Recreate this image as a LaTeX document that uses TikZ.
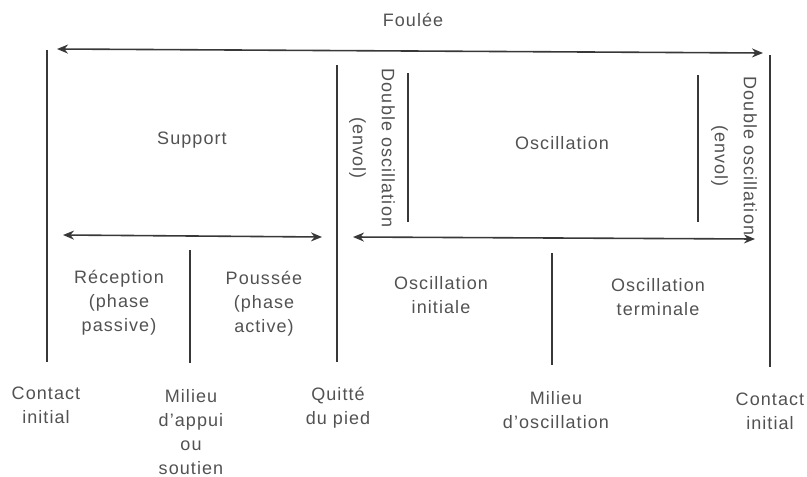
\documentclass[tikz,border=0pt]{standalone}
\usepackage{fontspec}
\setmainfont{Liberation Sans}[LetterSpace=6]
\usetikzlibrary{arrows.meta}
\definecolor{ink}{gray}{0.22}
\definecolor{txt}{gray}{0.32}
\begin{document}
\begin{tikzpicture}[x=1pt,y=-1pt,
  bar/.style={line width=1.6pt,draw=ink},
  dblarrow/.style={line width=1.6pt,draw=ink,{Stealth[length=11pt,width=9pt]}-{Stealth[length=11pt,width=9pt]}},
  lbl/.style={text=txt,font=\fontsize{18}{24}\selectfont,align=center,inner sep=0pt},
  rlbl/.style={lbl,rotate=-90}]
\useasboundingbox (0,0) rectangle (807,477);
% coordinates
\coordinate (c1t) at (47,50);   \coordinate (c1b) at (47,362);
\coordinate (qt)  at (337,65);  \coordinate (qb)  at (337,362);
\coordinate (d1t) at (408,73);  \coordinate (d1b) at (408,222);
\coordinate (d2t) at (698,75);  \coordinate (d2b) at (698,222);
\coordinate (c2t) at (770,55);  \coordinate (c2b) at (770,367);
\coordinate (m1t) at (190,250); \coordinate (m1b) at (190,363);
\coordinate (m2t) at (552,253); \coordinate (m2b) at (552,365);
\coordinate (fa) at (57,49);  \coordinate (fb) at (763,53);
\coordinate (sa) at (63,235); \coordinate (sb) at (322,237);
\coordinate (oa) at (353,237); \coordinate (ob) at (755,239);
% bars
\draw[bar] (c1t) -- (c1b);
\draw[bar] (qt) -- (qb);
\draw[bar] (d1t) -- (d1b);
\draw[bar] (d2t) -- (d2b);
\draw[bar] (c2t) -- (c2b);
\draw[bar] (m1t) -- (m1b);
\draw[bar] (m2t) -- (m2b);
% arrows
\draw[dblarrow] (fa) -- (fb);
\draw[dblarrow] (sa) -- (sb);
\draw[dblarrow] (oa) -- (ob);
% labels
\node[lbl] (foulee) at (413,20) {Foulée};
\node[lbl] (support) at (192,140) {Support};
\node[lbl] (oscil) at (562,143) {Oscillation};
\node[rlbl] (dbl1) at (372,148) {Double oscillation\\[5pt](envol)};
\node[rlbl] (dbl2) at (734,156) {Double oscillation\\[5pt](envol)};
\node[lbl] (recep) at (119,303) {Réception\\(phase\\passive)};
\node[lbl] (pous) at (264,304) {Poussée\\(phase\\active)};
\node[lbl] (oinit) at (441,295) {Oscillation\\initiale};
\node[lbl] (oterm) at (658,297) {Oscillation\\terminale};
\node[lbl] (ci1) at (46,405) {Contact\\initial};
\node[lbl] (mapp) at (191,432) {Milieu\\d'appui\\ou\\soutien};
\node[lbl] (quit) at (338,408) {Quitté\\du pied};
\node[lbl] (mosc) at (556,410) {Milieu\\d'oscillation};
\node[lbl] (ci2) at (770,411) {Contact\\initial};
\end{tikzpicture}
\end{document}
